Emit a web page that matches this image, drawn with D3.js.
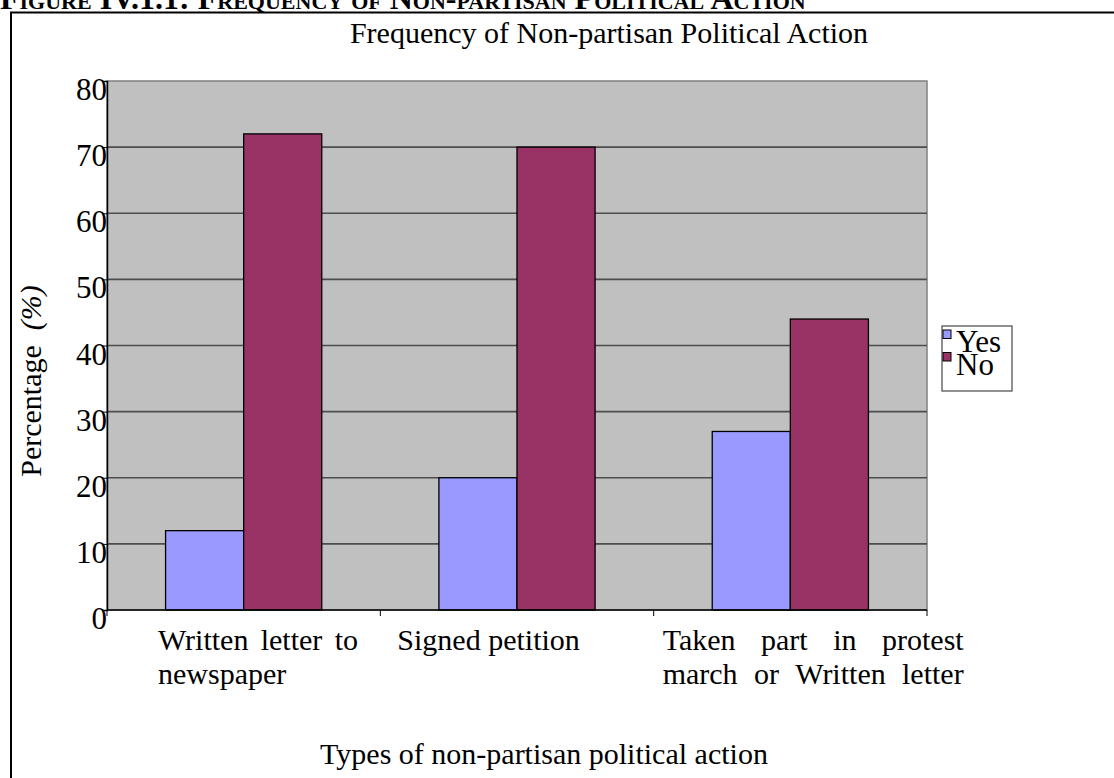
<!DOCTYPE html>
<html>
<head>
<meta charset="utf-8">
<script src="https://cdn.jsdelivr.net/npm/d3@7"></script>
<style>
  html, body { margin: 0; padding: 0; background: #fff; }
  svg { display: block; }
  text { font-family: "Liberation Serif", "Times New Roman", serif; fill: #000; }
</style>
</head>
<body>
<svg id="chart" width="1114" height="778"></svg>
<script>
// Survey results: share of respondents (%) per type of action
const categories = [
  "Written letter to newspaper",
  "Signed petition",
  "Taken part in protest march or Written letter"
];
const seriesNames = ["Yes", "No"];
const yesValues = [12, 20, 27];
const noValues = [72, 70, 44];
const yTicks = [0, 10, 20, 30, 40, 50, 60, 70, 80];

// Wrapped category label lines (justified inside their text box)
const categoryLines = [
  ["Written letter to", "newspaper"],
  ["Signed petition"],
  ["Taken part in protest", "march or Written letter"]
];

const colors = { Yes: "#9999FF", No: "#993366" };

const svg = d3.select("#chart");

// Page header (partly cut off at the top edge)
svg.append("text")
  .attr("x", 0).attr("y", 9)
  .attr("font-size", 32).attr("font-weight", "bold")
  .style("font-variant", "small-caps")
  .text("Figure IV.1.1: Frequency of Non-partisan Political Action");

// Frame around the figure
svg.append("line").attr("x1", 10).attr("x2", 1114).attr("y1", 12.5).attr("y2", 12.5)
  .attr("stroke", "#000").attr("stroke-width", 2);
svg.append("line").attr("x1", 11).attr("x2", 11).attr("y1", 12).attr("y2", 778)
  .attr("stroke", "#000").attr("stroke-width", 2);

const plot = { left: 107, right: 927, top: 81, bottom: 610 };

const x0 = d3.scaleBand().domain(categories).range([plot.left, plot.right]).padding(0);
const x1 = d3.scaleBand().domain(seriesNames).range([0, x0.bandwidth()])
  .paddingInner(0).paddingOuter(0.75);
const y = d3.scaleLinear().domain([0, 80]).range([plot.bottom, plot.top]);

// Plot background
svg.append("rect")
  .attr("x", plot.left).attr("y", plot.top)
  .attr("width", plot.right - plot.left).attr("height", plot.bottom - plot.top)
  .attr("fill", "#C0C0C0").attr("stroke", "#808080").attr("stroke-width", 1.5);

// Horizontal gridlines
svg.append("g")
  .selectAll("line")
  .data(yTicks.filter(t => t > 0 && t < 80))
  .join("line")
  .attr("x1", plot.left).attr("x2", plot.right)
  .attr("y1", d => y(d)).attr("y2", d => y(d))
  .attr("stroke", "#4d4d4d").attr("stroke-width", 1.6);

// Bars
const rows = categories.map((c, i) => ({ cat: c, Yes: yesValues[i], No: noValues[i] }));
const groups = svg.append("g").selectAll("g")
  .data(rows).join("g")
  .attr("transform", d => `translate(${x0(d.cat)},0)`);
groups.selectAll("rect")
  .data(d => seriesNames.map(s => ({ s, v: d[s] })))
  .join("rect")
  .attr("x", d => x1(d.s))
  .attr("y", d => y(d.v))
  .attr("width", x1.bandwidth())
  .attr("height", d => y(0) - y(d.v))
  .attr("fill", d => colors[d.s])
  .attr("stroke", "#000").attr("stroke-width", 1.3);

// Y axis
const yAxis = svg.append("g")
  .attr("transform", `translate(${plot.left},0)`)
  .call(d3.axisLeft(y).tickValues(yTicks).tickSize(5).tickPadding(1));
yAxis.select(".domain").attr("stroke", "#000").attr("stroke-width", 1.5);
yAxis.selectAll(".tick line").attr("stroke", "#000");
yAxis.selectAll(".tick text")
  .attr("font-family", "Liberation Serif, Times New Roman, serif")
  .attr("font-size", 31).attr("dy", "0.6em").attr("x", 0);

// X axis: line with category boundary ticks
const boundaries = [plot.left].concat(categories.map(c => x0(c) + x0.bandwidth()));
svg.append("line")
  .attr("x1", plot.left).attr("x2", plot.right)
  .attr("y1", plot.bottom).attr("y2", plot.bottom)
  .attr("stroke", "#000").attr("stroke-width", 1.5);
svg.append("g").selectAll("line")
  .data(boundaries).join("line")
  .attr("x1", d => d).attr("x2", d => d)
  .attr("y1", plot.bottom).attr("y2", plot.bottom + 6)
  .attr("stroke", "#000").attr("stroke-width", 1);

// Category labels: text box per category, lines justified by word spacing
const labelBoxes = [
  { dx: 51, width: 200, justify: [true, false] },
  { dx: 17, width: 182, justify: [false] },
  { dx: 9, width: 301, justify: [true, true] }
];
const lineY = [650, 684];
categories.forEach((c, i) => {
  const box = labelBoxes[i];
  const left = x0(c) + box.dx;
  categoryLines[i].forEach((line, li) => {
    const words = line.split(" ");
    const g = svg.append("g");
    const texts = words.map(w => g.append("text")
      .attr("font-size", 30).attr("y", lineY[li]).text(w));
    const widths = texts.map(t => t.node().getComputedTextLength());
    const total = d3.sum(widths);
    const gap = (box.justify[li] && words.length > 1)
      ? (box.width - total) / (words.length - 1)
      : 7.5;
    let xPos = left;
    texts.forEach((t, k) => {
      t.attr("x", xPos);
      xPos += widths[k] + gap;
    });
  });
});

// Axis titles
svg.append("text")
  .attr("x", 544).attr("y", 764)
  .attr("text-anchor", "middle").attr("font-size", 30)
  .text("Types of non-partisan political action");

const yTitle = svg.append("text")
  .attr("transform", "translate(41,381) rotate(-90)")
  .attr("text-anchor", "middle").attr("font-size", 30)
  .attr("xml:space", "preserve");
yTitle.append("tspan").text("Percentage  ");
yTitle.append("tspan").attr("font-style", "italic").text("(%)");

// Chart title
svg.append("text")
  .attr("x", 609).attr("y", 43)
  .attr("text-anchor", "middle").attr("font-size", 30)
  .text("Frequency of Non-partisan Political Action");

// Legend
const legend = svg.append("g").attr("transform", "translate(942,326)");
legend.append("rect")
  .attr("width", 70).attr("height", 65)
  .attr("fill", "#fff").attr("stroke", "#555").attr("stroke-width", 1.3);
seriesNames.forEach((s, i) => {
  legend.append("rect")
    .attr("x", 1).attr("y", 4 + i * 22.5)
    .attr("width", 8).attr("height", 8.5)
    .attr("fill", colors[s]).attr("stroke", "#000").attr("stroke-width", 1);
  legend.append("text")
    .attr("x", 14).attr("y", 26 + i * 23)
    .attr("font-size", 31)
    .text(s);
});
</script>
</body>
</html>
